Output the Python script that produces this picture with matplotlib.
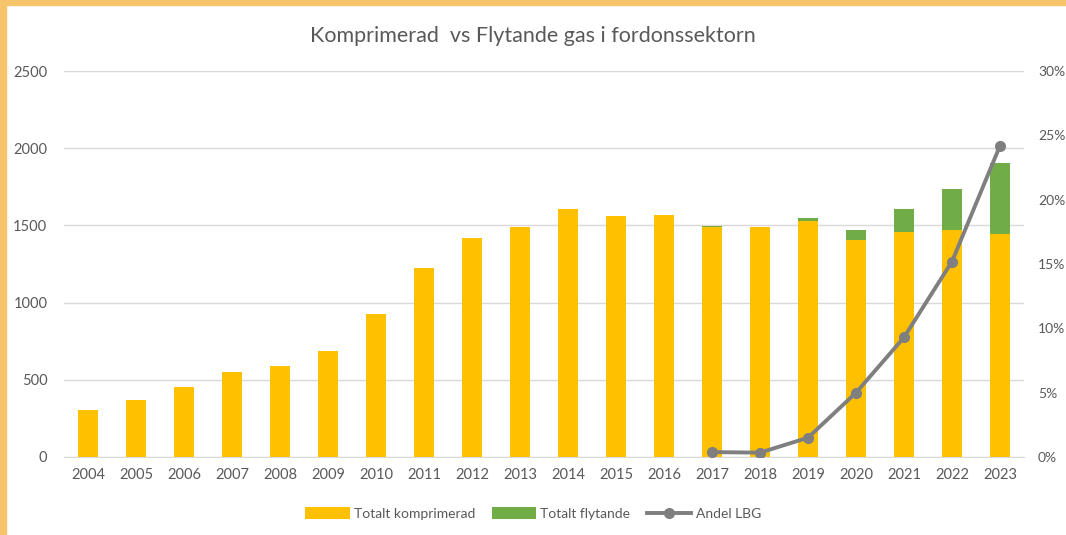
import numpy as np
import matplotlib.pyplot as plt
from matplotlib.patches import Rectangle
from matplotlib.ticker import FuncFormatter

plt.rcParams['font.family'] = ['Lato', 'DejaVu Sans']

years = [str(y) for y in range(2004, 2024)]
komprimerad = [303, 372, 453, 551, 592, 686, 927, 1226, 1421, 1489,
               1606, 1564, 1568, 1493, 1489, 1530, 1403, 1461, 1474, 1448]
flytande = [0, 0, 0, 0, 0, 0, 0, 0, 0, 0,
            0, 0, 0, 4, 3, 21, 70, 146, 260, 460]
lbg_years = ['2017', '2018', '2019', '2020', '2021', '2022', '2023']
andel_lbg = [0.38, 0.34, 1.5, 5.0, 9.3, 15.2, 24.2]

orange = '#FFC000'
green = '#70AD47'
grey = '#7F7F7F'
txt = '#595959'

fig = plt.figure(figsize=(10.66, 5.35), dpi=100)
ax = fig.add_axes([0.060, 0.1458, 0.9006, 0.7212])

x = np.arange(len(years))
w = 0.42
ax.bar(x, komprimerad, w, color=orange, label='Totalt komprimerad', zorder=2)
ax.bar(x, flytande, w, bottom=komprimerad, color=green, label='Totalt flytande', zorder=2)

ax.set_xlim(-0.5, len(years) - 0.5)
ax.set_ylim(0, 2500)
ax.set_yticks(range(0, 2501, 500))
ax.set_xticks(x)
ax.set_xticklabels(years)
ax.grid(axis='y', color='#D9D9D9', linewidth=1, zorder=0)
for s in ['top', 'right', 'left']:
    ax.spines[s].set_visible(False)
ax.spines['bottom'].set_color('#D9D9D9')
ax.tick_params(length=0, colors=txt, labelsize=10.5)
ax.tick_params(axis='y', pad=12)
ax.tick_params(axis='x', pad=8)

ax2 = ax.twinx()
lx = [years.index(y) for y in lbg_years]
ax2.plot(lx, andel_lbg, color=grey, linewidth=2.8, marker='o', markersize=7,
         label='Andel LBG', zorder=3)
ax2.set_ylim(0, 30)
ax2.set_yticks(range(0, 31, 5))
ax2.yaxis.set_major_formatter(FuncFormatter(lambda v, p: f'{v:.0f}%'))
for s in ax2.spines.values():
    s.set_visible(False)
ax2.tick_params(length=0, colors=txt, labelsize=10, pad=10)

fig.text(0.5, 0.932, 'Komprimerad  vs Flytande gas i fordonssektorn',
         ha='center', va='center', fontsize=15.5, color=txt)

h1, l1 = ax.get_legend_handles_labels()
h2, l2 = ax2.get_legend_handles_labels()
fig.legend(h1 + h2, l1 + l2, loc='center', bbox_to_anchor=(0.5, 0.04), ncol=3,
           frameon=False, fontsize=10, labelcolor=txt, handlelength=3.2,
           handleheight=0.9, columnspacing=1.2, handletextpad=0.3)

# orange frame at top and left edge
fig.patches.append(Rectangle((0, 1 - 5 / 535), 1, 5 / 535, transform=fig.transFigure,
                             color='#F6C46A', zorder=10))
fig.patches.append(Rectangle((0, 0), 6 / 1066, 1, transform=fig.transFigure,
                             color='#F6C46A', zorder=10))

fig.savefig('out.png', dpi=100)
